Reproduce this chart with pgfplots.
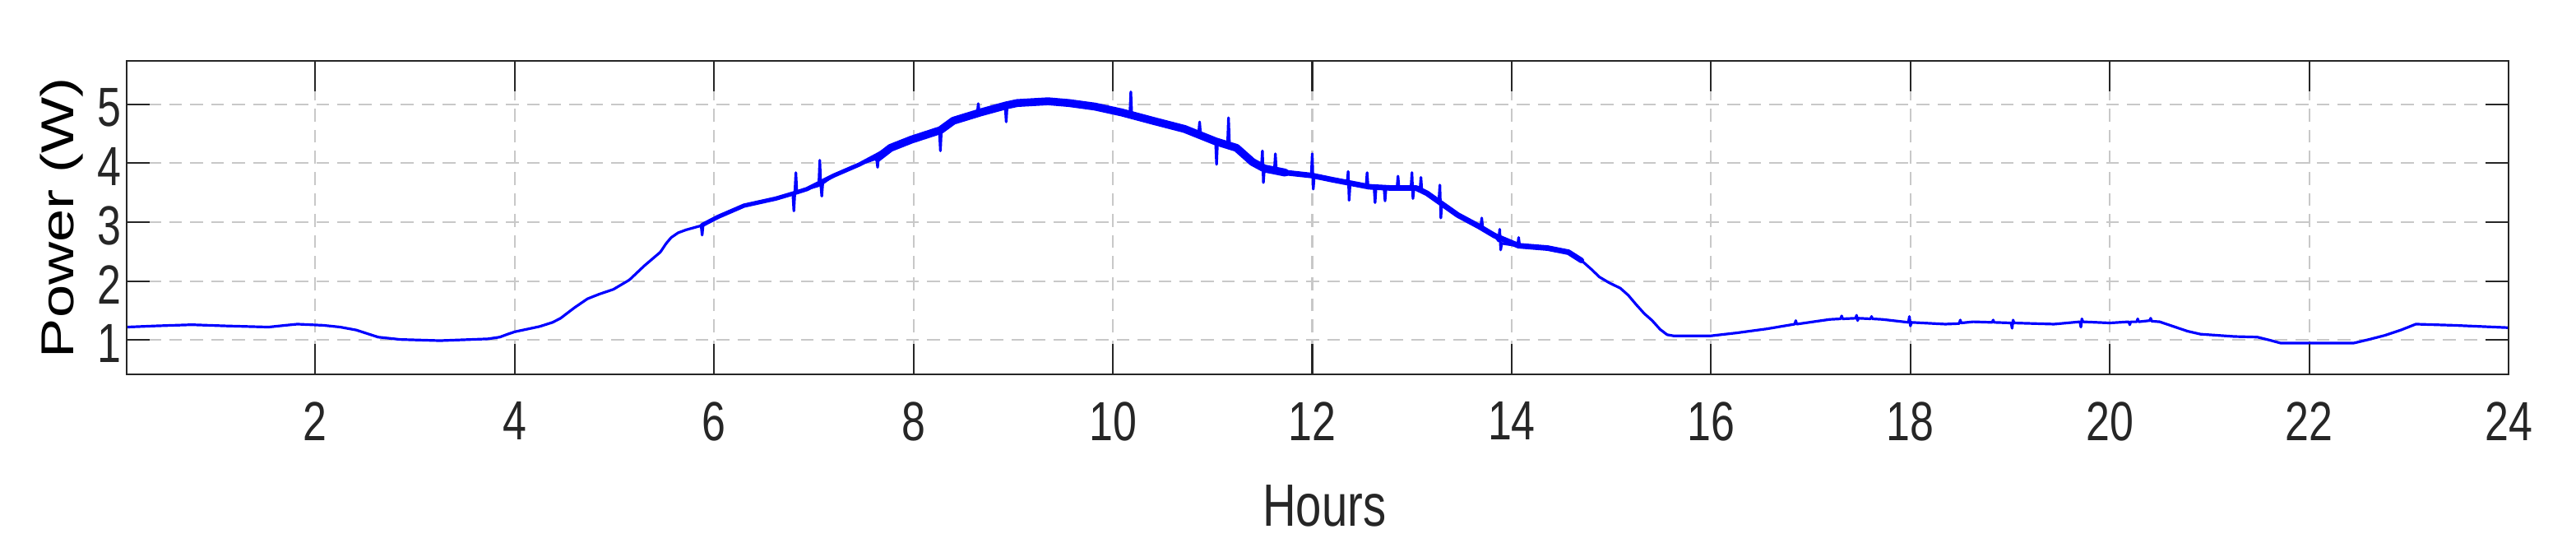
\documentclass[border=0pt]{standalone}
\usepackage{pgfplots}
\pgfplotsset{compat=1.18}
\usepackage{pgfplotstable}
\usepackage{fontspec}
\setmainfont{Liberation Sans}
\newfontfamily\tickfont[FakeStretch=0.775]{Liberation Sans}
\newfontfamily\ylabfont[FakeStretch=1.29]{Liberation Sans}
\definecolor{axgray}{HTML}{262626}
\definecolor{gridgray}{HTML}{C8C8C8}

\pgfplotstableread{
x y
0.11 1.22
0.40 1.24
0.76 1.26
1.10 1.24
1.53 1.22
1.70 1.25
1.82 1.27
2.08 1.25
2.25 1.22
2.41 1.17
2.52 1.11
2.63 1.05
2.85 1.01
3.25 0.99
3.73 1.02
3.85 1.05
3.93 1.10
4.00 1.14
4.25 1.23
4.38 1.30
4.46 1.37
4.60 1.55
4.73 1.70
4.85 1.78
4.99 1.86
5.15 2.02
5.30 2.26
5.46 2.49
5.52 2.64
5.57 2.74
5.64 2.82
5.72 2.87
5.87 2.94
5.88 2.78
5.89 2.95
6.04 3.09
6.30 3.28
6.62 3.40
6.79 3.48
6.80 3.19
6.81 3.50
6.82 3.84
6.83 3.51
6.93 3.56
7.05 3.62
7.06 4.05
7.07 3.64
7.08 3.44
7.09 3.66
7.20 3.79
7.46 3.98
7.63 4.08
7.64 3.93
7.65 4.10
7.77 4.26
7.98 4.40
8.26 4.55
8.27 4.21
8.28 4.57
8.40 4.72
8.64 4.85
8.65 5.01
8.66 4.86
8.92 4.97
8.93 4.70
8.94 4.99
9.04 5.02
9.35 5.05
9.56 5.02
9.82 4.96
10.09 4.86
10.17 4.82
10.18 5.21
10.19 4.81
10.40 4.72
10.72 4.58
10.86 4.50
10.87 4.70
10.88 4.49
11.03 4.38
11.04 3.98
11.05 4.37
11.15 4.31
11.16 4.77
11.17 4.30
11.24 4.26
11.40 4.02
11.49 3.95
11.50 4.21
11.51 3.67
11.52 3.91
11.62 3.88
11.63 4.16
11.64 3.87
11.73 3.84
11.99 3.79
12.00 4.16
12.01 3.56
12.02 3.78
12.20 3.72
12.35 3.67
12.36 3.86
12.37 3.37
12.38 3.67
12.54 3.61
12.55 3.84
12.56 3.60
12.62 3.59
12.63 3.33
12.64 3.59
12.72 3.58
12.73 3.36
12.74 3.58
12.78 3.58
12.85 3.58
12.86 3.78
12.87 3.58
12.99 3.58
13.00 3.84
13.01 3.40
13.02 3.57
13.08 3.54
13.09 3.76
13.10 3.52
13.15 3.49
13.27 3.37
13.28 3.63
13.29 3.07
13.30 3.33
13.46 3.12
13.69 2.92
13.70 3.07
13.71 2.90
13.83 2.77
13.87 2.68
13.88 2.88
13.89 2.53
13.90 2.64
14.06 2.60
14.07 2.74
14.08 2.60
14.36 2.56
14.50 2.53
14.57 2.49
14.64 2.43
14.70 2.35
14.80 2.20
14.88 2.07
14.98 1.97
15.09 1.88
15.17 1.76
15.25 1.60
15.33 1.45
15.41 1.33
15.49 1.18
15.56 1.09
15.63 1.07
15.72 1.07
15.99 1.07
16.25 1.12
16.56 1.19
16.84 1.27
16.85 1.33
16.86 1.27
17.19 1.35
17.30 1.36
17.31 1.41
17.32 1.36
17.45 1.37
17.46 1.42
17.47 1.33
17.48 1.37
17.60 1.36
17.61 1.40
17.62 1.36
17.72 1.35
17.98 1.30
17.99 1.40
18.00 1.24
18.01 1.30
18.35 1.27
18.49 1.28
18.50 1.34
18.51 1.29
18.63 1.31
18.82 1.30
18.83 1.34
18.84 1.30
19.01 1.29
19.02 1.20
19.03 1.34
19.04 1.29
19.44 1.27
19.70 1.31
19.71 1.22
19.72 1.36
19.73 1.31
20.00 1.29
20.19 1.31
20.20 1.26
20.21 1.31
20.27 1.31
20.28 1.36
20.29 1.31
20.40 1.33
20.41 1.37
20.42 1.32
20.50 1.31
20.64 1.23
20.78 1.15
20.91 1.10
21.25 1.06
21.48 1.05
21.60 1.00
21.71 0.95
22.00 0.95
22.45 0.95
22.60 1.01
22.76 1.08
22.92 1.17
23.07 1.27
23.45 1.25
24.00 1.21
}\powerdata

\pgfplotstableread{
x y
5.88 2.95
6.04 3.09
6.30 3.28
6.62 3.40
6.80 3.49
6.93 3.56
7.20 3.79
7.46 3.98
7.77 4.26
}\bandlow

\pgfplotstableread{
x y
7.64 4.09
7.77 4.26
7.98 4.40
8.27 4.56
8.40 4.72
8.67 4.86
8.93 4.98
9.04 5.02
9.35 5.05
9.56 5.02
9.82 4.96
10.09 4.86
10.40 4.72
10.72 4.58
11.03 4.37
11.24 4.26
11.40 4.02
11.52 3.91
11.73 3.84
}\bandhigh

\pgfplotstableread{
x y
11.52 3.91
11.73 3.84
12.00 3.79
12.20 3.72
12.57 3.60
12.78 3.58
13.04 3.58
13.15 3.49
13.46 3.12
13.67 2.93
13.83 2.77
14.07 2.60
14.36 2.56
14.57 2.49
14.70 2.35
}\bandmid

\begin{document}
\begin{tikzpicture}
\begin{axis}[
  name=ax,
  scale only axis, width=723.9pt, height=95.25pt,
  xmin=0.11, xmax=24, ymin=0.418, ymax=5.735,
  xtick={2,4,...,24}, ytick={1,2,3,4,5},
  tick align=inside, major tick length=7pt,
  grid=major,
  major grid style={gridgray, line width=0.55pt, dash pattern=on 3.9pt off 2.5pt},
  axis line style={axgray, line width=0.55pt},
  tick style={axgray, line width=0.55pt},
  /pgf/number format/assume math mode=true,
  tick label style={font=\tickfont\fontsize{16.75}{20}\selectfont, text=axgray},
  xticklabel style={yshift=-4.9pt},
  yticklabel style={xshift=1.7pt, yshift=-1pt},
  xlabel={Hours}, ylabel={Power (W)},
  xlabel style={at={(axis description cs:0.5028,-0.4829)}, anchor=base, inner sep=0pt,
    font=\tickfont\fontsize{18.15}{22}\selectfont, text=axgray},
  ylabel style={at={(axis description cs:-0.01817,0.5)}, anchor=south, inner sep=0pt,
    font=\ylabfont\fontsize{14}{17}\selectfont, text=black},
]
\addplot[blue, line width=1.3pt, line join=round, line cap=round] table[x=x,y=y] {\bandlow};
\addplot[blue, line width=2.4pt, line join=round, line cap=round] table[x=x,y=y] {\bandhigh};
\addplot[blue, line width=1.7pt, line join=round, line cap=round] table[x=x,y=y] {\bandmid};
\addplot[blue, line width=0.8pt, line join=round] table[x=x,y=y] {\powerdata};
\end{axis}
\begin{axis}[
  at={(ax.south west)}, anchor=south west,
  scale only axis, width=723.9pt, height=95.25pt,
  xmin=0.11, xmax=24, ymin=0.418, ymax=5.735,
  xtick={2,4,...,24}, xticklabels={}, ytick=\empty,
  tick align=inside, major tick length=9.25pt,
  axis line style={axgray, line width=0.55pt},
  tick style={axgray, line width=0.55pt},
]
\end{axis}
\pgfresetboundingbox
\path[use as bounding box] ([shift={(-38.575pt,-55.25pt)}]ax.south west) rectangle ([shift={(20.5pt,18.5pt)}]ax.north east);
\end{tikzpicture}
\end{document}
